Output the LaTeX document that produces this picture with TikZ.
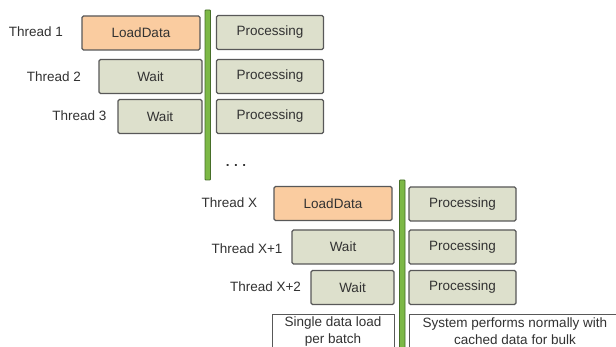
\documentclass[tikz,border=0pt]{standalone}
\usepackage{fontspec}
\setmainfont{Liberation Sans}
\usepackage{tikz}
\usetikzlibrary{positioning}
\usepackage{xcolor}
\definecolor{loadorange}{RGB}{250,204,160}
\definecolor{waitgreen}{RGB}{221,224,204}
\definecolor{boxgray}{RGB}{88,88,88}
\definecolor{textgray}{RGB}{50,50,50}
\definecolor{barfill}{RGB}{124,184,70}
\definecolor{barline}{RGB}{70,110,40}

\begin{document}
\begin{tikzpicture}[
  x=1pt, y=-1pt,
  every node/.style={font=\fontsize{13.5}{17}\selectfont, text=textgray},
  load/.style={draw=boxgray,line width=1.2pt,fill=loadorange,rounded corners=1.5pt,minimum width=118pt,minimum height=34pt,inner sep=0pt},
  wait/.style={draw=boxgray,line width=1.2pt,fill=waitgreen,rounded corners=1.5pt,minimum height=34pt,inner sep=0pt},
  proc/.style={draw=boxgray,line width=1.2pt,fill=waitgreen,rounded corners=1.5pt,minimum width=107pt,minimum height=34pt,inner sep=0pt},
  thr/.style={inner sep=1pt},
  note/.style={draw=boxgray,line width=1pt,fill=white,align=center,minimum height=34pt,inner sep=1pt},
  sync/.style={draw=barline,line width=0.8pt,fill=barfill,rounded corners=0.8pt}
]
\clip (0,0) rectangle (616,347);
\fill[white] (0,0) rectangle (616,347);

% TOP BATCH: first three threads
\node[thr] (th1) at (36,32) {Thread 1};
\node[thr] (th2) at (54,77) {Thread 2};
\node[thr] (th3) at (79.5,116) {Thread 3};

\node[load] (ld1) at (141,33) {LoadData};
\node[wait,minimum width=103pt] (wt2) at (150.5,76.5) {Wait};
\node[wait,minimum width=84pt] (wt3) at (160,116.5) {Wait};

\draw[sync] (205,10) rectangle (210.5,180);

\node[proc] (pr1) at (270,32.5) {Processing};
\node[proc] (pr2) at (270,76.5) {Processing};
\node[proc] (pr3) at (270,116.5) {Processing};

\node (gap) at (236,165) {\textbf{.\,\,.\,\,.}};

% BOTTOM BATCH: threads X .. X+2
\node[thr] (thX) at (229.5,203) {Thread X};
\node[thr] (thX1) at (247,249) {Thread X+1};
\node[thr] (thX2) at (265.5,287) {Thread X+2};

\node[load] (ldX) at (333,203.5) {LoadData};
\node[wait,minimum width=102pt] (wtX1) at (343,247) {Wait};
\node[wait,minimum width=83pt] (wtX2) at (352.5,287.5) {Wait};

\draw[sync] (399.5,180) rectangle (405,360);

\node[proc] (prX) at (462.5,204) {Processing};
\node[proc] (prX1) at (462.5,247) {Processing};
\node[proc] (prX2) at (462.5,287.5) {Processing};

% NOTES under the bottom batch
\node[note,minimum width=122pt] (load note) at (333,331.5) {Single data load\\per batch};
\node[note,minimum width=212pt] (run note) at (515,331.5) {System performs normally with\\cached data for bulk};

\end{tikzpicture}
\end{document}
